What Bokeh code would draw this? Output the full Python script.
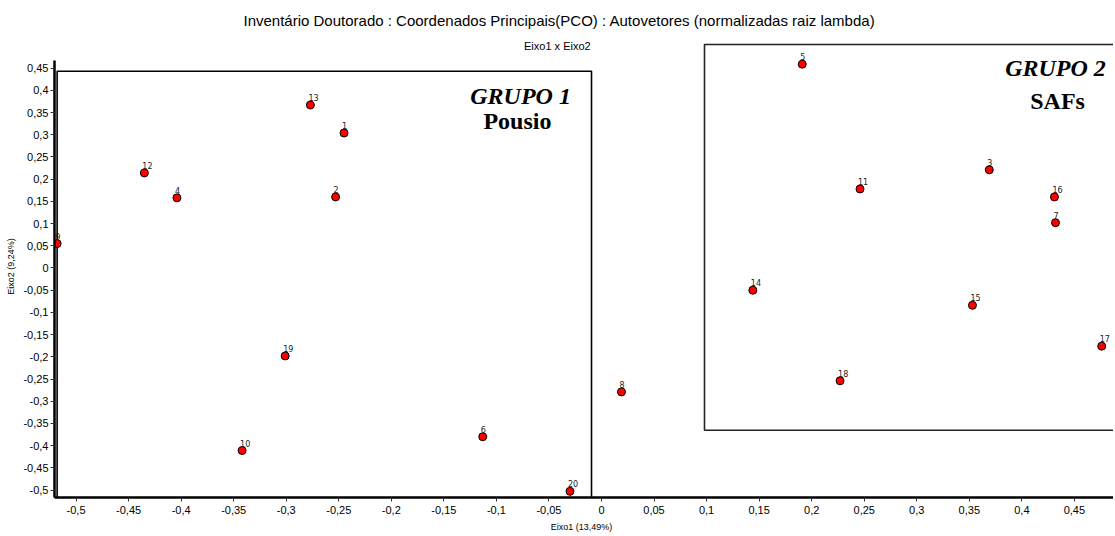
from bokeh.plotting import figure
from bokeh.models import Range1d, FixedTicker, BoxAnnotation, Label, ColumnDataSource
from bokeh.embed import file_html
from bokeh.resources import INLINE
from bokeh.core.properties import value

# ---- data ----
ids = ["1", "2", "3", "4", "5", "6", "7", "8", "9", "10",
       "11", "12", "13", "14", "15", "16", "17", "18", "19", "20"]
eixo1 = [-0.245, -0.253, 0.369, -0.404, 0.191, -0.113, 0.432, 0.019, -0.518, -0.342,
         0.246, -0.435, -0.277, 0.144, 0.353, 0.431, 0.476, 0.227, -0.301, -0.030]
eixo2 = [0.304, 0.160, 0.221, 0.158, 0.459, -0.380, 0.102, -0.279, 0.055, -0.411,
         0.178, 0.214, 0.367, -0.050, -0.084, 0.160, -0.176, -0.254, -0.198, -0.503]

x_ticks = [-0.5, -0.45, -0.4, -0.35, -0.3, -0.25, -0.2, -0.15, -0.1, -0.05,
           0.0, 0.05, 0.1, 0.15, 0.2, 0.25, 0.3, 0.35, 0.4, 0.45]
x_tick_labels = ["-0,5", "-0,45", "-0,4", "-0,35", "-0,3", "-0,25", "-0,2", "-0,15", "-0,1", "-0,05",
                 "0", "0,05", "0,1", "0,15", "0,2", "0,25", "0,3", "0,35", "0,4", "0,45"]
y_ticks = [-0.5, -0.45, -0.4, -0.35, -0.3, -0.25, -0.2, -0.15, -0.1, -0.05,
           0.0, 0.05, 0.1, 0.15, 0.2, 0.25, 0.3, 0.35, 0.4, 0.45]
y_tick_labels = ["-0,5", "-0,45", "-0,4", "-0,35", "-0,3", "-0,25", "-0,2", "-0,15", "-0,1", "-0,05",
                 "0", "0,05", "0,1", "0,15", "0,2", "0,25", "0,3", "0,35", "0,4", "0,45"]

title_text = "Inventário Doutorado : Coordenados Principais(PCO) : Autovetores (normalizadas raiz lambda)"
subtitle_text = "Eixo1 x Eixo2"
x_label = "Eixo1   (13,49%)"
y_label = "Eixo2   (9,24%)"

NARROW = "Liberation Sans Narrow, Arial Narrow, Liberation Sans, sans-serif"
SERIF = "Liberation Serif, Times New Roman, serif"

p = figure(width=1113, height=534, output_backend="svg", toolbar_location=None,
           x_range=Range1d(-0.5205, 0.4872), y_range=Range1d(-0.5168, 0.5348),
           min_border_left=54, min_border_right=0, min_border_top=30, min_border_bottom=35)
p.outline_line_color = None
p.xgrid.visible = False
p.ygrid.visible = False
p.background_fill_color = "white"
p.border_fill_color = "white"

p.title.text = title_text
p.title.align = "left"
p.title.offset = 189
p.title.standoff = 3
p.title.text_font = NARROW
p.title.text_font_size = "15px"
p.title.text_font_style = "normal"
p.title.text_color = "black"

for ax, ticks, labels in ((p.xaxis[0], x_ticks, x_tick_labels), (p.yaxis[0], y_ticks, y_tick_labels)):
    ax.ticker = FixedTicker(ticks=ticks)
    ax.major_label_overrides = {t: l for t, l in zip(ticks, labels)}
    ax.axis_line_width = 2.5
    ax.axis_line_color = "black"
    ax.major_tick_out = 4
    ax.major_tick_in = 0
    ax.major_tick_line_color = "#333333"
    ax.minor_tick_line_color = None
    ax.major_label_text_font = NARROW
    ax.major_label_text_font_size = "11px"
    ax.major_label_text_color = "black"
    ax.axis_label_text_font = NARROW
    ax.axis_label_text_font_size = "9px"
    ax.axis_label_text_font_style = "normal"
    ax.axis_label_text_color = "black"

p.xaxis.axis_label = x_label
p.yaxis.axis_label = y_label
p.xaxis.major_label_standoff = 4
p.yaxis.major_label_standoff = 2
p.xaxis.axis_label_standoff = 5
p.yaxis.axis_label_standoff = 4
p.yaxis.bounds = (-0.5168, 0.467)

# group boxes
p.add_layout(BoxAnnotation(left=-0.518, right=-0.0095, bottom=-0.53, top=0.443,
                           fill_alpha=0, line_color="black", line_alpha=1, line_width=1.6,
                           level="underlay"))
p.add_layout(BoxAnnotation(left=0.098, right=0.6, bottom=-0.3655, top=0.5034,
                           fill_alpha=0, line_color="#222222", line_alpha=1, line_width=1.6,
                           level="underlay"))

# points
src = ColumnDataSource(dict(x=eixo1, y=eixo2, id=ids))
p.scatter("x", "y", source=src, size=8, fill_color="#ff0000", line_color="black", line_width=1)
p.text("x", "y", text="id", source=src, x_offset=-2, y_offset=-4,
       text_font=value("DejaVu Sans"), text_font_size="8px", text_color="#222222",
       text_align="left", text_baseline="bottom")

# group texts
p.add_layout(Label(x=-0.077, y=0.387, text="GRUPO 1", text_font=SERIF, text_font_size="24px",
                   text_font_style="bold italic", text_align="center", text_baseline="middle",
                   text_color="black"))
p.add_layout(Label(x=-0.080, y=0.330, text="Pousio", text_font=SERIF, text_font_size="24px",
                   text_font_style="bold", text_align="center", text_baseline="middle",
                   text_color="black"))
p.add_layout(Label(x=0.432, y=0.451, text="GRUPO 2", text_font=SERIF, text_font_size="24px",
                   text_font_style="bold italic", text_align="center", text_baseline="middle",
                   text_color="black"))
p.add_layout(Label(x=0.434, y=0.375, text="SAFs", text_font=SERIF, text_font_size="24px",
                   text_font_style="bold", text_align="center", text_baseline="middle",
                   text_color="black"))

# subtitle
p.add_layout(Label(x=-0.042, y=0.499, text=subtitle_text, text_font=NARROW, text_font_size="11px",
                   text_align="center", text_baseline="middle", text_color="black"))

open("out.html", "w").write(file_html(p, INLINE))
